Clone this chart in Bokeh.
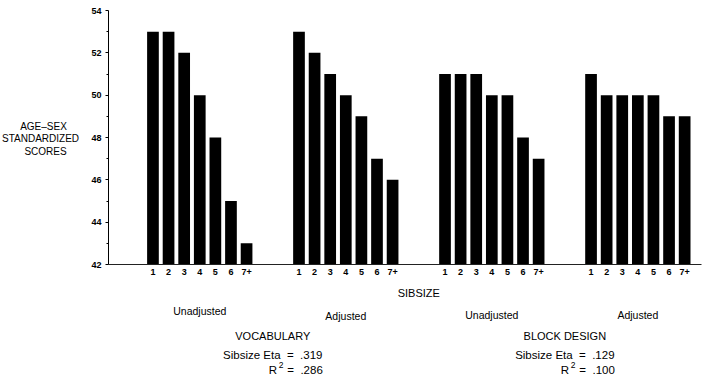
from bokeh.plotting import figure
from bokeh.models import Range1d, FixedTicker, CustomJSTickFormatter, Label
from bokeh.layouts import row, column
from bokeh.embed import file_html
from bokeh.resources import INLINE

# ---- data ----
sibsize_labels = ["1", "2", "3", "4", "5", "6", "7+"]
panel_labels = ["Unadjusted", "Adjusted", "Unadjusted", "Adjusted"]
vocab_unadjusted = [53, 53, 52, 50, 48, 45, 43]
vocab_adjusted = [53, 52, 51, 50, 49, 47, 46]
block_unadjusted = [51, 51, 51, 50, 50, 48, 47]
block_adjusted = [51, 50, 50, 50, 50, 49, 49]
measures = ["VOCABULARY", "BLOCK DESIGN"]
eta_values = [".319", ".129"]
r2_values = [".286", ".100"]
y_ticks = [42, 44, 46, 48, 50, 52, 54]
y_title = ["AGE\u2013SEX", "STANDARDIZED", "SCORES"]
x_title = "SIBSIZE"

series = [vocab_unadjusted, vocab_adjusted, block_unadjusted, block_adjusted]

# ---- layout constants ----
GROUP_STEP = 9.36
X0, X1 = -2.85, 35.16
Y0, Y1 = 42, 54
FRAME_W, FRAME_H = 593, 254
TITLE_W = 88           # left panel holding the y title
AXIS_W = 20            # border for the y axis
TOP, RIGHT, XAXIS_H = 10, 12, 20
TOTAL_H = 383
MAIN_H = TOP + FRAME_H + XAXIS_H
BOTTOM_H = TOTAL_H - MAIN_H
FONT = "Liberation Sans"
NB = "\u00a0"

xs, tops, tick_labels = [], [], []
for g, vals in enumerate(series):
    for i, v in enumerate(vals):
        xs.append(g * GROUP_STEP + i)
        tops.append(v)
        tick_labels.append(sibsize_labels[i])

group_centers = [g * GROUP_STEP + (len(sibsize_labels) - 1) / 2 for g in range(len(series))]
pair_centers = [(group_centers[0] + group_centers[1]) / 2, (group_centers[2] + group_centers[3]) / 2]

x_range = Range1d(X0, X1)


def blank(fig):
    fig.xgrid.visible = False
    fig.ygrid.visible = False
    fig.outline_line_color = None
    fig.background_fill_color = "white"
    fig.border_fill_color = "white"


# ---- main chart ----
p = figure(frame_width=FRAME_W, frame_height=FRAME_H,
           output_backend="svg", toolbar_location=None,
           x_range=x_range, y_range=Range1d(Y0, Y1),
           min_border_left=AXIS_W, min_border_top=TOP,
           min_border_right=RIGHT, min_border_bottom=XAXIS_H)
blank(p)
p.vbar(x=xs, top=tops, bottom=Y0, width=0.75, fill_color="black", line_color=None)

xa = p.xaxis[0]
xa.ticker = FixedTicker(ticks=xs, minor_ticks=[])
xa.formatter = CustomJSTickFormatter(args=dict(xs=xs, labels=tick_labels), code="""
const j = xs.findIndex(v => Math.abs(v - tick) < 1e-6);
return j >= 0 ? labels[j] : "";
""")
xa.major_tick_in = 0
xa.major_tick_out = 0
xa.minor_tick_line_color = None
xa.axis_line_color = "#222222"
xa.major_label_standoff = 4
xa.major_label_text_font = FONT
xa.major_label_text_font_size = "9px"
xa.major_label_text_font_style = "bold"
xa.major_label_text_color = "black"

ya = p.yaxis[0]
ya.ticker = FixedTicker(ticks=y_ticks, minor_ticks=[t + 1 for t in y_ticks[:-1]])
ya.major_tick_in = 0
ya.major_tick_out = 3
ya.minor_tick_in = 0
ya.minor_tick_out = 2
ya.axis_line_color = "black"
ya.major_tick_line_color = "black"
ya.minor_tick_line_color = "black"
ya.major_label_standoff = 4
ya.major_label_text_font = FONT
ya.major_label_text_font_size = "9px"
ya.major_label_text_font_style = "bold"
ya.major_label_text_color = "black"

# ---- left panel: y title (coordinates = page pixels) ----
t = figure(width=TITLE_W, height=TOTAL_H, output_backend="svg", toolbar_location=None,
           x_range=Range1d(0, TITLE_W), y_range=Range1d(TOTAL_H, 0),
           x_axis_type=None, y_axis_type=None, min_border=0)
blank(t)
title_x = [43, 40, 45]
for k, line in enumerate(y_title):
    t.add_layout(Label(x=title_x[k], y=125.5 + 12.5 * k, text=line, text_align="center",
                       text_baseline="middle", text_font=FONT, text_font_size="10px",
                       text_color="black"))

# ---- bottom panel: texts below the axis (x shared, y = page pixels) ----
b = figure(frame_width=FRAME_W, frame_height=BOTTOM_H, output_backend="svg",
           toolbar_location=None, x_range=x_range,
           y_range=Range1d(MAIN_H + BOTTOM_H, MAIN_H),
           x_axis_type=None, y_axis_type=None,
           min_border_left=AXIS_W, min_border_right=RIGHT, min_border_top=0,
           min_border_bottom=0)
blank(b)


def add_label(text, x, y, size, align="center", x_offset=0):
    b.add_layout(Label(x=x, y=y, text=text, text_align=align, text_baseline="middle",
                       x_offset=x_offset, text_font=FONT, text_font_size=size,
                       text_color="black"))


add_label(x_title, sum(group_centers) / len(group_centers), 292, "11px")

panel_y = [310.5, 315.5, 314.5, 314.5]
for g, txt in enumerate(panel_labels):
    add_label(txt, group_centers[g], panel_y[g], "10.5px")

for m, name in enumerate(measures):
    pc = pair_centers[m]
    add_label(name, pc, 335, "11px")
    add_label("Sibsize Eta" + NB * 2 + "=" + NB * 2 + eta_values[m], pc, 354, "11.5px")
    add_label("R", pc, 369, "11.5px", align="left", x_offset=-4)
    add_label("2", pc, 364, "8.5px", align="left", x_offset=6)
    add_label("=" + NB * 2 + r2_values[m], pc, 369, "11.5px", align="right", x_offset=50)

layout = row(t, column(p, b))
open("out.html", "w").write(file_html(layout, INLINE))
